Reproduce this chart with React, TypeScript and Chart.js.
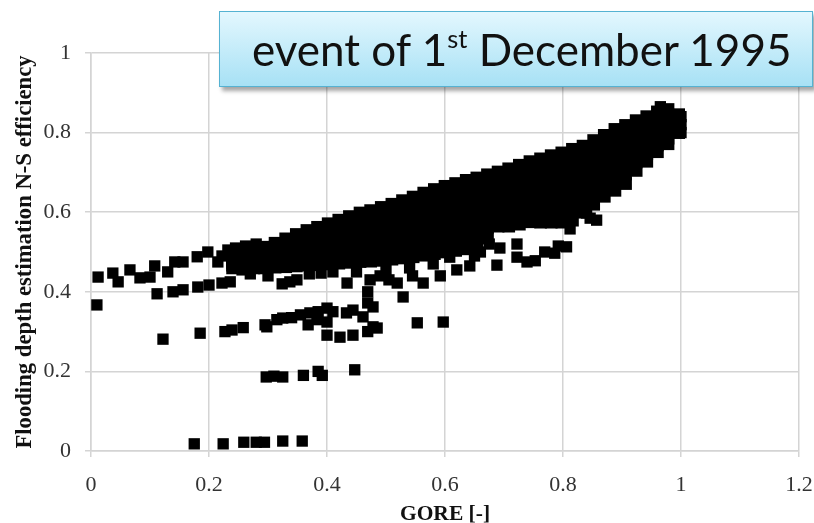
import React, { useEffect, useRef } from 'react';
import { Chart, registerables } from 'chart.js';

Chart.register(...registerables);

// Axis tick labels
const xTickLabels = ['0', '0.2', '0.4', '0.6', '0.8', '1', '1.2'];
const yTickLabels = ['0', '0.2', '0.4', '0.6', '0.8', '1'];

const titleMain = 'event of 1';
const titleSup = 'st';
const titleRest = ' December 1995';
const xTitle = 'GORE [-]';
const yTitle = 'Flooding depth estimation N-S efficiency';

// GORE values of the dense cloud
const bandX = [0.24, 0.258, 0.276, 0.294, 0.312, 0.33, 0.348, 0.366, 0.384, 0.402, 0.42, 0.438, 0.456, 0.474, 0.492, 0.51, 0.528, 0.546, 0.564, 0.582, 0.6, 0.618, 0.636, 0.654, 0.672, 0.69, 0.708, 0.726, 0.744, 0.762, 0.78, 0.798, 0.816, 0.834, 0.852, 0.87, 0.888, 0.906, 0.924, 0.942, 0.96, 0.978, 0.996];

// N-S efficiency of the dense cloud, one list per run
const runA = [0.5, 0.503, 0.507, 0.512, 0.522, 0.533, 0.544, 0.554, 0.562, 0.571, 0.58, 0.589, 0.598, 0.604, 0.612, 0.62, 0.629, 0.638, 0.648, 0.657, 0.665, 0.672, 0.68, 0.686, 0.694, 0.701, 0.709, 0.718, 0.727, 0.734, 0.742, 0.749, 0.758, 0.766, 0.78, 0.793, 0.808, 0.818, 0.83, 0.84, 0.852, 0.858, 0.845];
const runB = [0.493, 0.496, 0.499, 0.503, 0.512, 0.521, 0.531, 0.54, 0.546, 0.554, 0.562, 0.57, 0.578, 0.583, 0.59, 0.597, 0.605, 0.613, 0.622, 0.63, 0.638, 0.644, 0.651, 0.658, 0.668, 0.678, 0.685, 0.693, 0.702, 0.708, 0.714, 0.72, 0.728, 0.738, 0.753, 0.768, 0.783, 0.794, 0.809, 0.821, 0.835, 0.844, 0.838];
const runC = [0.487, 0.489, 0.491, 0.495, 0.502, 0.51, 0.518, 0.525, 0.531, 0.537, 0.544, 0.551, 0.557, 0.562, 0.568, 0.574, 0.581, 0.588, 0.596, 0.603, 0.61, 0.616, 0.623, 0.629, 0.641, 0.656, 0.661, 0.669, 0.677, 0.681, 0.686, 0.691, 0.699, 0.711, 0.727, 0.742, 0.757, 0.769, 0.788, 0.803, 0.819, 0.829, 0.83];
const runD = [0.48, 0.482, 0.484, 0.486, 0.492, 0.498, 0.505, 0.511, 0.515, 0.521, 0.526, 0.532, 0.537, 0.541, 0.546, 0.551, 0.557, 0.563, 0.57, 0.577, 0.583, 0.588, 0.594, 0.601, 0.615, 0.633, 0.637, 0.644, 0.652, 0.655, 0.659, 0.662, 0.669, 0.683, 0.7, 0.717, 0.732, 0.745, 0.768, 0.784, 0.802, 0.815, 0.823];
const runE = [0.473, 0.474, 0.476, 0.477, 0.482, 0.486, 0.491, 0.496, 0.499, 0.504, 0.508, 0.512, 0.517, 0.519, 0.523, 0.528, 0.533, 0.538, 0.544, 0.55, 0.555, 0.56, 0.565, 0.572, 0.588, 0.61, 0.613, 0.619, 0.626, 0.628, 0.631, 0.633, 0.639, 0.655, 0.673, 0.691, 0.706, 0.721, 0.747, 0.765, 0.785, 0.801, 0.815];
const runF = [0.467, 0.467, 0.468, 0.469, 0.472, 0.475, 0.478, 0.482, 0.484, 0.487, 0.49, 0.493, 0.496, 0.498, 0.501, 0.505, 0.509, 0.513, 0.518, 0.523, 0.528, 0.532, 0.537, 0.544, 0.562, 0.588, 0.589, 0.595, 0.601, 0.602, 0.603, 0.604, 0.61, 0.628, 0.647, 0.666, 0.681, 0.696, 0.726, 0.747, 0.769, 0.786, 0.808];
const runG = [0.46, 0.46, 0.46, 0.46, 0.462, 0.463, 0.465, 0.467, 0.468, 0.47, 0.472, 0.474, 0.476, 0.477, 0.479, 0.482, 0.485, 0.488, 0.492, 0.496, 0.5, 0.504, 0.508, 0.515, 0.535, 0.565, 0.565, 0.57, 0.576, 0.575, 0.575, 0.575, 0.58, 0.6, 0.62, 0.64, 0.655, 0.672, 0.705, 0.728, 0.752, 0.772, 0.8];

// Scattered points [GORE, N-S]
const upperLeft = [[0.012, 0.437], [0.037, 0.447], [0.046, 0.425], [0.066, 0.455], [0.083, 0.435], [0.1, 0.437], [0.108, 0.465], [0.13, 0.45], [0.142, 0.475], [0.156, 0.475], [0.18, 0.488], [0.198, 0.5], [0.215, 0.475], [0.222, 0.49], [0.232, 0.505], [0.245, 0.51], [0.256, 0.455], [0.262, 0.515], [0.28, 0.52]];
const lowerLeft = [[0.01, 0.367], [0.112, 0.395], [0.139, 0.4], [0.156, 0.405], [0.181, 0.412], [0.2, 0.417], [0.222, 0.422], [0.236, 0.425], [0.27, 0.445], [0.3, 0.44], [0.324, 0.42], [0.337, 0.425], [0.349, 0.43]];
const thirdRow = [[0.122, 0.281], [0.185, 0.296], [0.227, 0.3], [0.239, 0.304], [0.258, 0.31], [0.295, 0.317], [0.298, 0.312], [0.315, 0.33], [0.325, 0.334], [0.34, 0.335], [0.355, 0.342], [0.371, 0.347], [0.383, 0.33], [0.385, 0.35], [0.4, 0.359], [0.368, 0.317], [0.4, 0.324], [0.4, 0.291], [0.41, 0.35], [0.422, 0.286], [0.433, 0.347], [0.444, 0.291], [0.444, 0.354], [0.461, 0.337], [0.469, 0.3], [0.478, 0.312], [0.485, 0.309]];
const fourthRow = [[0.297, 0.186], [0.31, 0.188], [0.325, 0.186], [0.36, 0.19], [0.385, 0.2], [0.392, 0.19], [0.447, 0.204]];
const bottomRow = [[0.175, 0.018], [0.224, 0.018], [0.259, 0.022], [0.28, 0.022], [0.294, 0.022], [0.325, 0.025], [0.358, 0.025]];
const midScatter = [[0.37, 0.445], [0.39, 0.447], [0.41, 0.45], [0.434, 0.422], [0.45, 0.45], [0.469, 0.4], [0.469, 0.372], [0.473, 0.43], [0.478, 0.362], [0.49, 0.44], [0.5, 0.455], [0.505, 0.43], [0.519, 0.422], [0.529, 0.387], [0.54, 0.46], [0.545, 0.44], [0.563, 0.422], [0.58, 0.47], [0.592, 0.44], [0.608, 0.487], [0.62, 0.455], [0.642, 0.465], [0.65, 0.49], [0.553, 0.322], [0.597, 0.324]];
const rightScatter = [[0.66, 0.5], [0.675, 0.52], [0.688, 0.467], [0.693, 0.51], [0.722, 0.52], [0.722, 0.487], [0.739, 0.475], [0.753, 0.478], [0.769, 0.5], [0.786, 0.497], [0.792, 0.515], [0.806, 0.513], [0.812, 0.558], [0.84, 0.598], [0.846, 0.585], [0.857, 0.58], [0.965, 0.865], [1.0, 0.84], [1.0, 0.82], [1.0, 0.8]];

export default function App() {
  const ref = useRef<HTMLCanvasElement>(null);

  useEffect(() => {
    const bandPts: { x: number; y: number }[] = [];
    [runA, runB, runC, runD, runE, runF, runG].forEach((run) => {
      run.forEach((y, i) => {
        if (y !== null && y !== undefined) bandPts.push({ x: bandX[i], y });
      });
    });
    const loosePts: { x: number; y: number }[] = [];
    [upperLeft, lowerLeft, thirdRow, fourthRow, bottomRow, midScatter, rightScatter].forEach((grp) => {
      grp.forEach(([x, y]) => loosePts.push({ x, y }));
    });

    const gridColor = '#d4d4d4';
    const serif = '"Liberation Serif", "Times New Roman", serif';
    const tickFont = { family: serif, size: 22 };
    const marker = {
      pointStyle: 'rect' as const,
      backgroundColor: '#000',
      borderColor: '#000',
      borderWidth: 0,
    };

    const chart = new Chart(ref.current!, {
      type: 'scatter',
      data: {
        datasets: [
          { ...marker, data: bandPts, pointRadius: 9, pointHoverRadius: 9 },
          { ...marker, data: loosePts, pointRadius: 8, pointHoverRadius: 8 },
        ],
      },
      options: {
        responsive: false,
        animation: false,
        layout: { padding: { top: 53, right: 15, left: 0, bottom: 0 } },
        plugins: { legend: { display: false }, tooltip: { enabled: false } },
        scales: {
          x: {
            type: 'linear',
            min: 0,
            max: 1.2,
            afterFit: (s: any) => {
              s.height = 72;
              s.paddingLeft = 0;
              s.paddingRight = 0;
            },
            ticks: {
              stepSize: 0.2,
              maxRotation: 0,
              autoSkip: false,
              padding: 15,
              color: '#333',
              font: tickFont,
              callback: (v: any, i: number) => xTickLabels[i] ?? String(v),
            },
            grid: { color: gridColor, lineWidth: 1.5, tickLength: 6, tickColor: gridColor },
            border: { color: gridColor, width: 1.5 },
            title: {
              display: true,
              text: xTitle,
              color: '#111',
              font: { family: serif, size: 21.5, weight: 'bold', lineHeight: 0.8 },
              padding: 0,
            },
          },
          y: {
            type: 'linear',
            min: 0,
            max: 1,
            afterFit: (s: any) => {
              s.width = 91;
            },
            ticks: {
              stepSize: 0.2,
              padding: 14,
              color: '#333',
              font: tickFont,
              callback: (v: any, i: number) => yTickLabels[i] ?? String(v),
            },
            grid: { color: gridColor, lineWidth: 1.5, tickLength: 6, tickColor: gridColor },
            border: { color: gridColor, width: 1.5 },
            title: {
              display: true,
              text: yTitle,
              color: '#111',
              font: { family: serif, size: 22.7, weight: 'bold' },
              padding: { top: 12, bottom: 0 },
            },
          },
        },
      },
    });
    return () => chart.destroy();
  }, []);

  return (
    <div style={{ position: 'fixed', left: 0, top: 0, width: 814, height: 523, background: '#fff', overflow: 'hidden' }}>
      <canvas ref={ref} width={814} height={523} style={{ position: 'absolute', left: 0, top: 0, width: 814, height: 523 }} />
      <div
        style={{
          position: 'absolute',
          left: 219,
          top: 11,
          width: 560,
          height: 74,
          border: '1.5px solid #55b2d2',
          background: 'linear-gradient(#e3f7fe, #a7e1f5)',
          boxShadow: '3px 4px 4px rgba(0,0,0,0.35)',
          display: 'flex',
          alignItems: 'center',
          paddingLeft: 32,
          boxSizing: 'content-box',
          fontFamily: 'Lato, "Open Sans", sans-serif',
          fontSize: 44,
          color: '#111',
          whiteSpace: 'nowrap',
          lineHeight: 1,
        }}
      >
        <span>
          {titleMain}
          <span style={{ fontSize: '0.58em', verticalAlign: '0.72em' }}>{titleSup}</span>
          {titleRest}
        </span>
      </div>
    </div>
  );
}
